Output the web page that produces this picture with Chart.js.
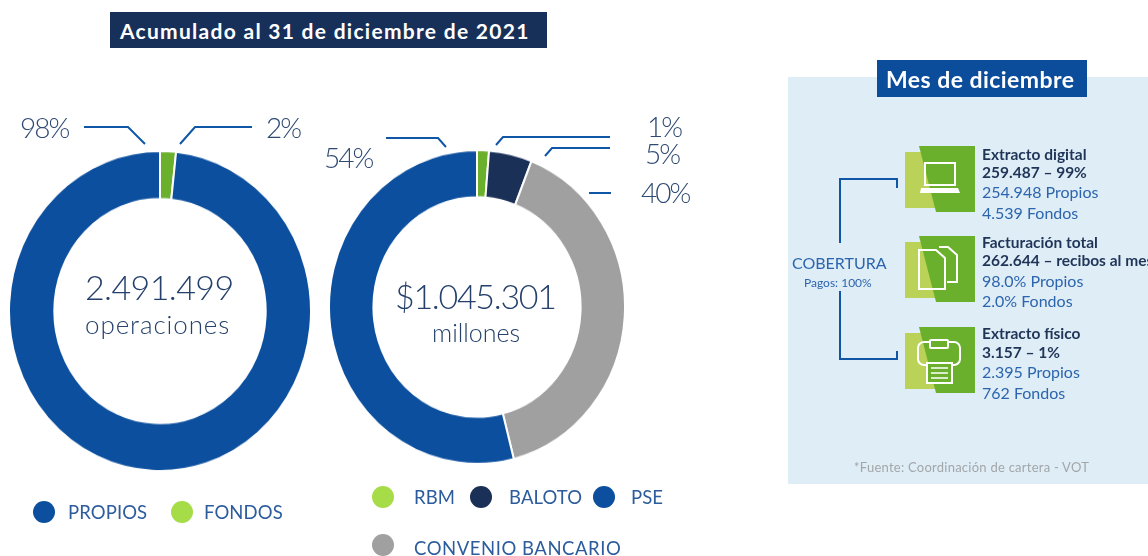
<!DOCTYPE html>
<html lang="es">
<head>
<meta charset="utf-8">
<title>Acumulado al 31 de diciembre de 2021</title>
<script src="https://cdn.jsdelivr.net/npm/chart.js@4"></script>
<style>
    html, body { margin: 0; padding: 0; background: #fff; }
    body { width: 1148px; height: 556px; position: relative; overflow: hidden; font-family: Lato, sans-serif; }
    .t { position: absolute; white-space: nowrap; line-height: 1; transform: translateY(-50%); }
    .box { position: absolute; }
    canvas { position: absolute; transform: scaleY(1.06); }
    svg { position: absolute; left: 0; top: 0; }
    .pct { font-weight: 300; font-size: 28px; letter-spacing: -2px; color: #2f4a73; }
    .leg { font-size: 18.5px; color: #2c5c9c; letter-spacing: .1px; }
    .dot { position: absolute; width: 22px; height: 22px; border-radius: 50%; transform: translate(-50%, -50%); }
    .b { font-weight: 700; font-size: 15.5px; color: #1f3557; }
    .n { font-size: 16px; color: #2c65ad; }
</style>
</head>
<body>
<div class="box" style="left:110px;top:12px;width:437px;height:36px;background:#17305a"></div>
<div class="t" style="left:120px;top:30px;font-size:21px;font-weight:700;color:#fff;letter-spacing:1.28px">Acumulado al 31 de diciembre de 2021</div>

<canvas id="operaciones_Chart" width="304" height="304" style="left:8px;top:159px"></canvas>
<canvas id="millones_Chart" width="298" height="298" style="left:328px;top:158px"></canvas>

<div class="t" style="left:85px;top:287px;font-size:34px;font-weight:300;color:#24406b;letter-spacing:-.6px" id="total1"></div>
<div class="t" style="left:85px;top:324px;font-size:26px;font-weight:300;color:#24406b;letter-spacing:.9px">operaciones</div>
<div class="t" style="left:395px;top:296px;font-size:34px;font-weight:300;color:#24406b;letter-spacing:-1.3px" id="total2"></div>
<div class="t" style="left:432px;top:332px;font-size:25px;font-weight:300;color:#24406b">millones</div>

<svg width="1148" height="556" fill="none">
    <g stroke="#0f57a6" stroke-width="2">
        <path d="M84 127H128L145 144"/>
        <path d="M252 127H195L180 144"/>
        <path d="M386 138H438L446 147"/>
        <path d="M610 137H503L496 145"/>
        <path d="M610 148H552L545 156"/>
        <path d="M589 193H611"/>
    </g>
</svg>

<div id="labels"></div>
<div id="legends"></div>

<div class="box" style="left:788px;top:77px;width:360px;height:407px;background:#dfedf7"></div>
<div class="box" style="left:877px;top:60px;width:210px;height:37px;background:#0b4d9b"></div>
<div class="t" style="left:886px;top:79px;font-size:23px;font-weight:700;color:#fff;letter-spacing:.45px">Mes de diciembre</div>

<svg width="1148" height="556" fill="none">
    <path d="M840 243V179H897V188M840 291V359H897V351" stroke="#0f57a6" stroke-width="2"/>
    <g id="icons"></g>
    <g stroke="#fff" stroke-width="2">
        <path d="M925 163H955V185H925Z"/>
        <path d="M921 188H958L960 193H920Z" fill="#fff" stroke="none"/>

        <path d="M919 250H936L945 258V289H919Z"/>
        <path d="M939 247H948L957 255V282H947"/>

        <rect x="918" y="342" width="42" height="23" rx="6"/>
        <rect x="930" y="340" width="18" height="8" rx="1" fill="#6ab02c"/>
        <rect x="927" y="363" width="25" height="20" fill="#6ab02c"/>
        <path d="M931 368H948M931 373H948M931 378H948" stroke-width="1.5"/>
    </g>
</svg>

<div class="t" style="left:792px;top:263px;font-size:16px;color:#2c65ad">COBERTURA</div>
<div class="t" style="left:804px;top:283px;font-size:12px;color:#2c65ad">Pagos: 100%</div>
<div id="details"></div>
<div class="t" style="left:854px;top:467px;font-size:13px;color:#a3a6a8;letter-spacing:.25px">*Fuente: Coordinación de cartera - VOT</div>

<script>
// ============================
// DATA
// ============================
const origenLabels = ['FONDOS', 'PROPIOS'];
const origenValues = [1.7, 98.3];
const origenPct = ['2%', '98%'];
const canalLabels = ['RBM', 'BALOTO', 'CONVENIO BANCARIO', 'PSE'];
const canalValues = [1.3, 4.7, 40, 54];
const canalPct = ['1%', '5%', '40%', '54%'];
const totalOperaciones = '2.491.499';
const totalMillones = '$1.045.301';

const azul = '#0b4f9e';
const verde = '#6ab02c';
const verdeClaro = '#a6dc47';
const navy = '#1a3057';
const gris = '#a0a0a0';

const detailLines = [
    ['Extracto digital', '259.487 – 99%', '254.948 Propios', '4.539 Fondos'],
    ['Facturación total', '262.644 – recibos al mes', '98.0% Propios', '2.0% Fondos'],
    ['Extracto físico', '3.157 – 1%', '2.395 Propios', '762 Fondos']
];

function addText(parent, cls, text, left, top) {
    const el = document.createElement('div');
    el.className = 't ' + cls;
    el.textContent = text;
    el.style.left = left + 'px';
    el.style.top = top + 'px';
    parent.appendChild(el);
    return el;
}

function addDot(parent, color, left, top) {
    const el = document.createElement('div');
    el.className = 'dot';
    el.style.background = color;
    el.style.left = left + 'px';
    el.style.top = top + 'px';
    parent.appendChild(el);
}

// ============================
// DOUGHNUTS
// ============================
function donut(id, labels, values, colors) {
    new Chart(document.getElementById(id), {
        type: 'doughnut',
        data: {
            labels: labels,
            datasets: [{
                data: values,
                backgroundColor: colors,
                borderColor: '#fff',
                borderWidth: 2
            }]
        },
        options: {
            responsive: false,
            animation: false,
            cutout: '70%',
            plugins: {
                legend: { display: false },
                tooltip: { enabled: false }
            }
        }
    });
}

donut('operaciones_Chart', origenLabels, origenValues, [verde, azul]);
donut('millones_Chart', canalLabels, canalValues, [verde, navy, gris, azul]);

document.getElementById('total1').textContent = totalOperaciones;
document.getElementById('total2').textContent = totalMillones;

// ============================
// LABELS AND LEGENDS
// ============================
const labelsBox = document.getElementById('labels');
addText(labelsBox, 'pct', origenPct[1], 20, 127);
addText(labelsBox, 'pct', origenPct[0], 266, 127);
addText(labelsBox, 'pct', canalPct[3], 324, 157);
addText(labelsBox, 'pct', canalPct[0], 647, 126);
addText(labelsBox, 'pct', canalPct[1], 645, 153);
addText(labelsBox, 'pct', canalPct[2], 641, 192);

const legendBox = document.getElementById('legends');
addDot(legendBox, azul, 44, 512);
addText(legendBox, 'leg', origenLabels[1], 68, 512);
addDot(legendBox, verdeClaro, 182, 512);
addText(legendBox, 'leg', origenLabels[0], 204, 512);
addDot(legendBox, verdeClaro, 383, 497);
addText(legendBox, 'leg', canalLabels[0], 414, 497);
addDot(legendBox, navy, 481, 497);
addText(legendBox, 'leg', canalLabels[1], 509, 497);
addDot(legendBox, azul, 604, 497);
addText(legendBox, 'leg', canalLabels[3], 631, 497);
addDot(legendBox, gris, 383, 545);
addText(legendBox, 'leg', canalLabels[2], 414, 548).style.letterSpacing = '.55px';

// ============================
// RIGHT PANEL
// ============================
const detailsBox = document.getElementById('details');
const rowTops = [[155, 173, 192, 213], [243, 261, 281, 301], [334, 353, 372, 393]];
detailLines.forEach((lines, i) => {
    lines.forEach((line, j) => {
        addText(detailsBox, j < 2 ? 'b' : 'n', line, 982, rowTops[i][j]);
    });
});

const iconTops = [146, 236, 327];
const icons = document.getElementById('icons');
iconTops.forEach((top) => {
    const light = document.createElementNS('http://www.w3.org/2000/svg', 'rect');
    light.setAttribute('x', 905);
    light.setAttribute('y', top + 6);
    light.setAttribute('width', 30);
    light.setAttribute('height', 56);
    light.setAttribute('fill', '#b9d257');
    icons.appendChild(light);
    const dark = document.createElementNS('http://www.w3.org/2000/svg', 'path');
    dark.setAttribute('d', `M919 ${top}H975V${top + 66}H936Z`);
    dark.setAttribute('fill', '#6ab02c');
    icons.appendChild(dark);
});
</script>
</body>
</html>
